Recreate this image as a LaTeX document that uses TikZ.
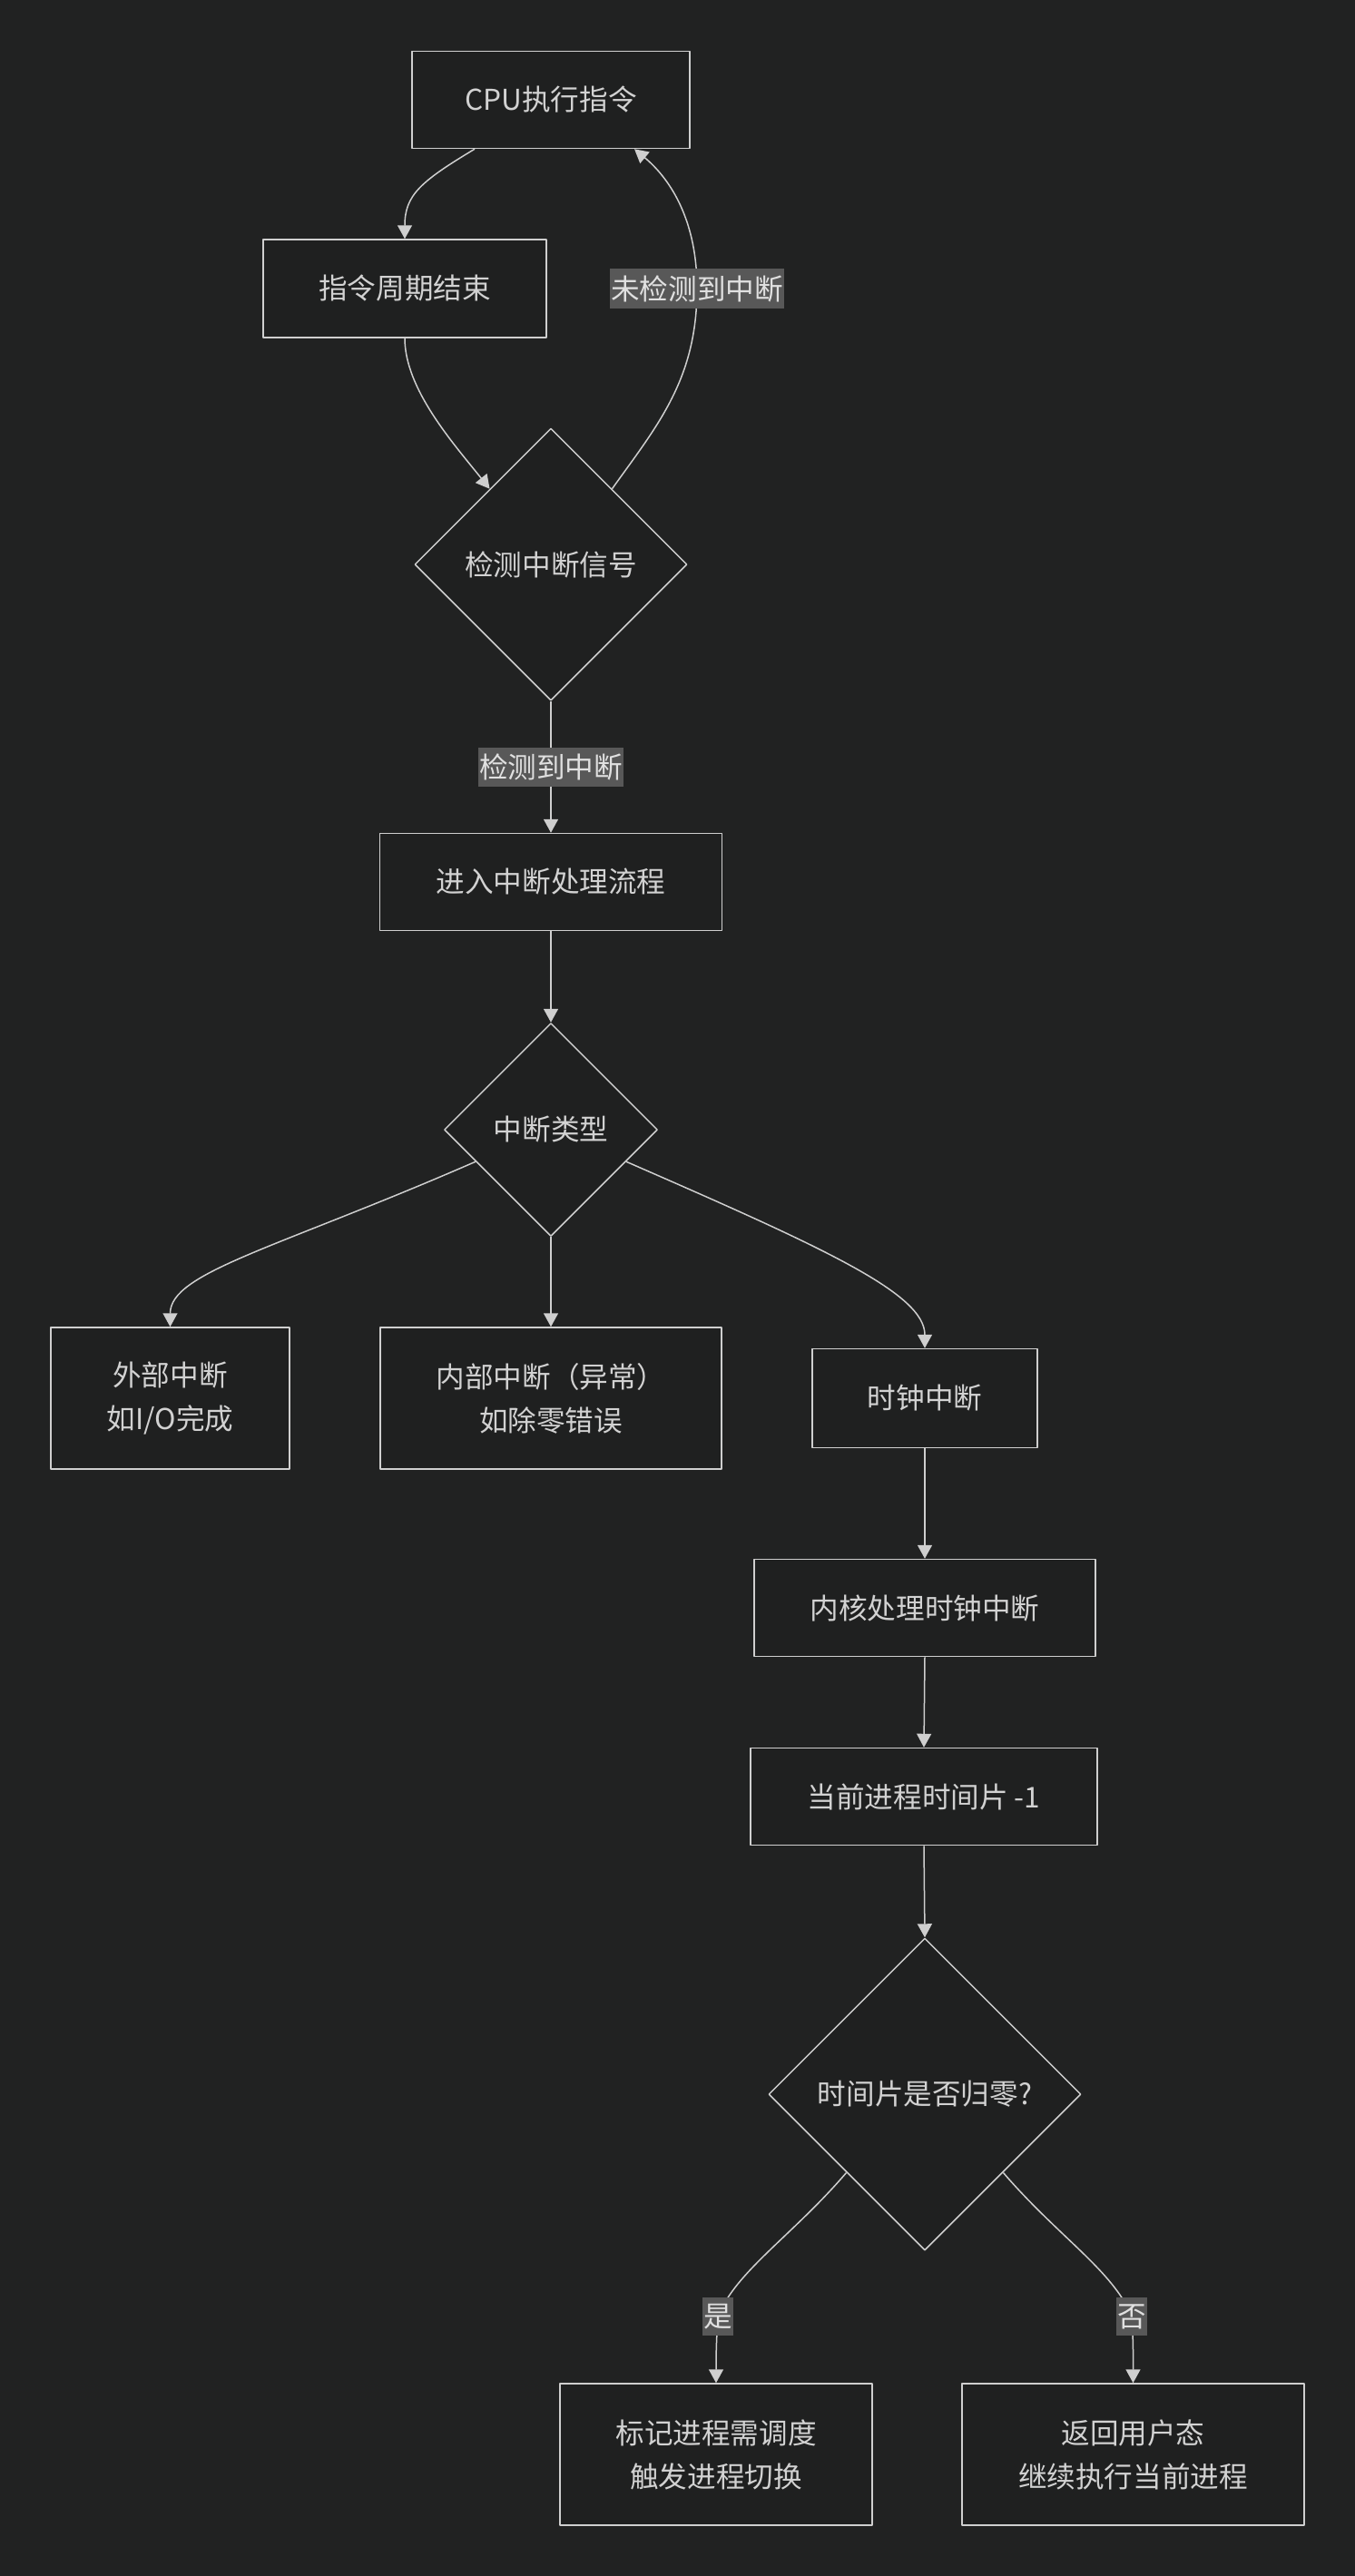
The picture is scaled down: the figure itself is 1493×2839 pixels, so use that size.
\documentclass[tikz,border=0pt]{standalone}
\usepackage{fontspec}
\setmainfont{Noto Sans CJK SC}
\usetikzlibrary{shapes.geometric,arrows.meta}
\definecolor{bgc}{HTML}{212222}
\definecolor{ndc}{HTML}{1F2020}
\definecolor{lnc}{HTML}{CFCFCF}
\definecolor{txc}{HTML}{D2D2D2}
\definecolor{lbc}{HTML}{585858}
\definecolor{lbt}{HTML}{E0E0E0}
\tikzset{
	box/.style={draw=lnc, fill=ndc, line width=0.75pt, text=txc, inner sep=0pt, align=center},
	dia/.style={diamond, aspect=1, draw=lnc, fill=ndc, line width=0.75pt, text=txc, inner sep=0pt},
	lbl/.style={fill=lbc, text=lbt, inner xsep=0.5pt, inner ysep=3.5pt},
	arr/.style={draw=lnc, line width=0.75pt, -{Triangle[length=7.5pt,width=8pt]}}
}
\begin{document}
\begin{tikzpicture}[x=0.5pt, y=-0.5pt, font=\fontsize{15.8pt}{24pt}\selectfont, line join=round]
	\fill[bgc] (0,0) rectangle (1493,2839);
	\useasboundingbox (0,0) rectangle (1493,2839);
	% boxes and decisions
	\node[box, minimum width=153pt, minimum height=53.5pt] (cpu) at (607,110) {CPU执行指令};
	\node[box, minimum width=156pt, minimum height=54pt] (cyc) at (446,318) {指令周期结束};
	\node[dia, minimum width=150pt, minimum height=150pt] (chk) at (607,622) {检测中断信号};
	\node[box, minimum width=188.5pt, minimum height=53.5pt] (enter) at (607,972) {进入中断处理流程};
	\node[dia, minimum width=117.5pt, minimum height=117.5pt] (typ) at (607,1245) {中断类型};
	\node[box, minimum width=131.5pt, minimum height=78pt] (ext) at (187.5,1541) {外部中断\\如I/O完成};
	\node[box, minimum width=188pt, minimum height=78pt] (inn) at (607,1541) {内部中断（异常）\\如除零错误};
	\node[box, minimum width=124pt, minimum height=54.5pt] (clk) at (1019,1541) {时钟中断};
	\node[box, minimum width=188pt, minimum height=53.5pt] (ker) at (1019,1772) {内核处理时钟中断};
	\node[box, minimum width=191pt, minimum height=53.5pt] (cur) at (1018,1980) {当前进程时间片 -1};
	\node[dia, minimum width=172pt, minimum height=172pt] (slc) at (1019,2308) {时间片是否归零?};
	\node[box, minimum width=172pt, minimum height=78pt] (mark) at (789,2705) {标记进程需调度\\触发进程切换};
	\node[box, minimum width=188.5pt, minimum height=78pt] (ret) at (1248.5,2705) {返回用户态\\继续执行当前进程};
	% label points
	\coordinate (lp) at (768,318);
	\coordinate (ys) at (791,2553);
	\coordinate (no) at (1247,2553);
	% connectors
	\draw[arr] ([xshift=-42pt]cpu.south) .. controls +(-30pt,-18pt) and +(0,24pt) .. (cyc.north);
	\draw[arr] (cyc.south) .. controls +(0,-28pt) and +(-20pt,25pt) .. (chk.129);
	\draw[arr] (chk.51) .. controls +(25pt,35pt) and +(0,-50pt) .. (lp) node[lbl]{未检测到中断}
		.. controls +(0,40pt) and +(18pt,-15pt) .. ([xshift=46pt]cpu.south);
	\draw[arr] (chk.south) -- node[lbl]{检测到中断} (enter.north);
	\draw[arr] (typ.203) .. controls +(-110pt,-48pt) and +(0,30pt) .. (ext.north);
	\draw[arr] (typ.337) .. controls +(110pt,-48pt) and +(0,30pt) .. (clk.north);
	\foreach \a/\b in {enter/typ, typ/inn, clk/ker, ker/cur, cur/slc}
		\draw[arr] (\a.south) -- (\b.north);
	\draw[arr] (slc.south west) .. controls +(-30pt,-35pt) and +(10pt,25pt) .. (ys) node[lbl]{是}
		.. controls +(-1pt,-15pt) and +(0,12pt) .. (mark.north);
	\draw[arr] (slc.south east) .. controls +(30pt,-35pt) and +(-10pt,25pt) .. (no) node[lbl]{否}
		.. controls +(1pt,-15pt) and +(0,12pt) .. (ret.north);
\end{tikzpicture}
\end{document}
